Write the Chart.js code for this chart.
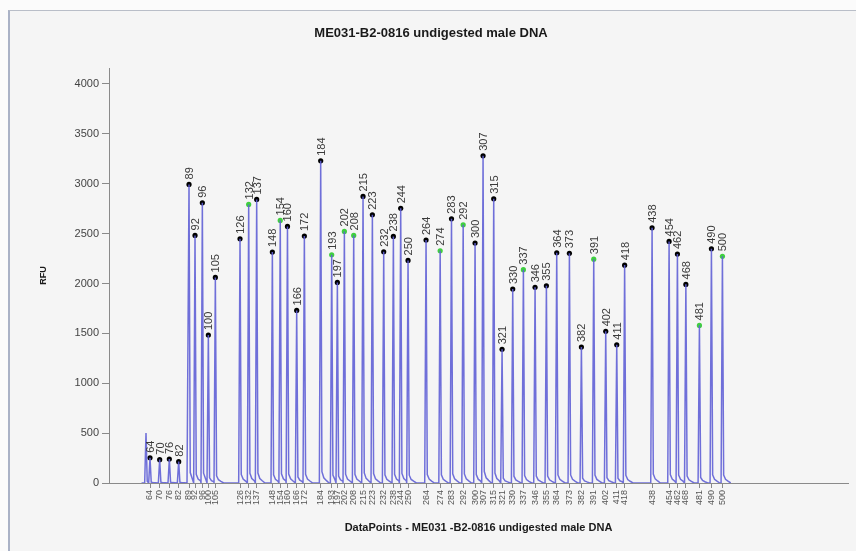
<!DOCTYPE html>
<html>
<head>
<meta charset="utf-8">
<script src="https://cdn.jsdelivr.net/npm/chart.js@4.4.1/dist/chart.umd.min.js"></script>
<style>
  html, body { margin: 0; padding: 0; background: #fbfbfb; width: 856px; height: 551px; overflow: hidden; }
  .panel { position: absolute; left: 8px; top: 10px; width: 870px; height: 560px;
           border-left: 2px solid #aab2c6; border-top: 1px solid #b9bec8; background: #f5f5f5; }
  #wrap { position: absolute; left: 0; top: 0; width: 856px; height: 551px; }
</style>
</head>
<body>
<div class="panel"></div>
<div id="wrap"><canvas id="c" width="856" height="551"></canvas></div>
<script>
// Called fragment sizes (bp) with their scan position and peak height (RFU)
const sizeLabels = [64, 70, 76, 82, 89, 92, 96, 100, 105, 126, 132, 137, 148, 154, 160, 166, 172,
  184, 193, 197, 202, 208, 215, 223, 232, 238, 244, 250, 264, 274, 283, 292, 300, 307, 315, 321,
  330, 337, 346, 355, 364, 373, 382, 391, 402, 411, 418, 438, 454, 462, 468, 481, 490, 500];
const peakScan = [2769, 2856, 2943, 3027, 3120, 3174, 3240, 3294, 3357, 3579, 3657, 3729, 3870, 3941, 4006, 4089, 4158,
  4305, 4404, 4455, 4518, 4602, 4686, 4770, 4872, 4959, 5025, 5091, 5253, 5380, 5482, 5587, 5694, 5766, 5862, 5937,
  6033, 6129, 6234, 6336, 6429, 6543, 6651, 6762, 6870, 6969, 7040, 7287, 7440, 7515, 7591, 7713, 7821, 7920];
const peakRFU = [253, 234, 240, 214, 2993, 2482, 2809, 1483, 2061, 2448, 2792, 2843, 2315, 2632, 2572, 1730, 2475,
  3230, 2288, 2011, 2522, 2482, 2873, 2689, 2318, 2472, 2753, 2231, 2435, 2328, 2648, 2588, 2405, 3280, 2849, 1340,
  1944, 2138, 1961, 1977, 2308, 2302, 1363, 2244, 1520, 1386, 2184, 2558, 2422, 2295, 1991, 1580, 2348, 2272];
// Sizes flagged as ladder matches (drawn with a green marker)
const flaggedSizes = [132, 154, 193, 202, 208, 274, 292, 337, 391, 481, 500];
// Uncalled peak (primer region)
const uncalledScan = [2733];
const uncalledRFU = [500];

const yTicks = [0, 500, 1000, 1500, 2000, 2500, 3000, 3500, 4000];
const scanMin = 2400, scanMax = 9050, rfuMax = 4160;

// Electropherogram trace: each peak is a sharp rise with a short, low decaying tail
const allPeaks = sizeLabels.map((s, i) => ({ x: peakScan[i], y: peakRFU[i] }))
  .concat(uncalledScan.map((x, i) => ({ x, y: uncalledRFU[i] })))
  .sort((a, b) => a.x - b.x);
const trace = [{ x: allPeaks[0].x - 40, y: 0 }];
allPeaks.forEach((p, i) => {
  const next = allPeaks[i + 1] ? allPeaks[i + 1].x - 12 : Infinity;
  trace.push({ x: p.x - 12, y: 0 });
  trace.push({ x: p.x, y: p.y });
  [[11, 0.035], [28, 0.016], [50, 0.008], [75, 0]].forEach(([dx, f]) => {
    if (p.x + dx < next) trace.push({ x: p.x + dx, y: p.y * f });
  });
});

const markers = sizeLabels.map((s, i) => ({ x: peakScan[i], y: peakRFU[i], label: String(s) }));
const markerColors = sizeLabels.map(s => flaggedSizes.includes(s) ? '#3fcf3f' : '#000000');

const peakLabelPlugin = {
  id: 'peakLabels',
  afterDatasetsDraw(chart) {
    const { ctx } = chart;
    const meta = chart.getDatasetMeta(1);
    ctx.save();
    ctx.font = '11px "Liberation Sans", Arial, sans-serif';
    ctx.fillStyle = '#3a3a3a';
    ctx.textAlign = 'left';
    ctx.textBaseline = 'alphabetic';
    meta.data.forEach((pt, i) => {
      ctx.save();
      ctx.translate(pt.x, pt.y - 5);
      ctx.rotate(-Math.PI / 2);
      ctx.fillText(markers[i].label, 0, 4);
      ctx.restore();
    });
    ctx.restore();
  }
};

const chartTitlePlugin = {
  id: 'chartTitle',
  afterDraw(chart) {
    const { ctx } = chart;
    ctx.save();
    ctx.font = 'bold 13px "Liberation Sans", Arial, sans-serif';
    ctx.fillStyle = '#1a1a1a';
    ctx.textAlign = 'center';
    ctx.textBaseline = 'middle';
    ctx.fillText('ME031-B2-0816 undigested male DNA', 431, 33);
    ctx.restore();
  }
};

new Chart(document.getElementById('c'), {
  type: 'line',
  data: {
    datasets: [
      {
        data: trace,
        borderColor: 'rgba(96, 96, 214, 0.9)',
        borderWidth: 1.5,
        pointRadius: 0,
        tension: 0,
        fill: false
      },
      {
        type: 'scatter',
        data: markers,
        pointRadius: 2.6,
        pointBackgroundColor: markerColors,
        pointBorderColor: markerColors,
        pointBorderWidth: 0
      }
    ]
  },
  options: {
    responsive: false,
    animation: false,
    layout: { padding: { top: 68, right: 8, bottom: 0, left: 0 } },
    plugins: { legend: { display: false }, tooltip: { enabled: false }, title: { display: false } },
    scales: {
      x: {
        type: 'linear',
        min: scanMin,
        max: scanMax,
        afterBuildTicks(scale) { scale.ticks = peakScan.map(v => ({ value: v })); },
        afterFit(scale) { scale.height = 68; },
        border: { color: '#8a8a8a', width: 1 },
        grid: { drawOnChartArea: false, drawTicks: true, tickLength: 5, color: '#8a8a8a' },
        ticks: {
          autoSkip: false,
          minRotation: 90,
          maxRotation: 90,
          padding: 2,
          color: '#555555',
          font: { size: 9, family: '"Liberation Sans", Arial, sans-serif' },
          callback(v) { const i = peakScan.indexOf(v); return i >= 0 ? String(sizeLabels[i]) : ''; }
        },
        title: {
          display: true,
          text: 'DataPoints - ME031 -B2-0816 undigested male DNA',
          color: '#1a1a1a',
          font: { size: 11, weight: 'bold', family: '"Liberation Sans", Arial, sans-serif' },
          padding: { top: 0, bottom: 16 }
        }
      },
      y: {
        min: 0,
        max: rfuMax,
        afterBuildTicks(scale) { scale.ticks = yTicks.map(v => ({ value: v })); },
        afterFit(scale) { scale.width = 109; },
        border: { color: '#8a8a8a', width: 1 },
        grid: { drawOnChartArea: false, drawTicks: true, tickLength: 7, color: '#8a8a8a' },
        ticks: {
          padding: 3,
          color: '#444444',
          font: { size: 11, family: '"Liberation Sans", Arial, sans-serif' },
          callback(v) { return String(v); }
        },
        title: {
          display: true,
          text: 'RFU',
          color: '#1a1a1a',
          font: { size: 9, weight: 'bold', family: '"Liberation Sans", Arial, sans-serif' },
          padding: { top: 38, bottom: 0 }
        }
      }
    }
  },
  plugins: [peakLabelPlugin, chartTitlePlugin]
});
</script>
</body>
</html>
